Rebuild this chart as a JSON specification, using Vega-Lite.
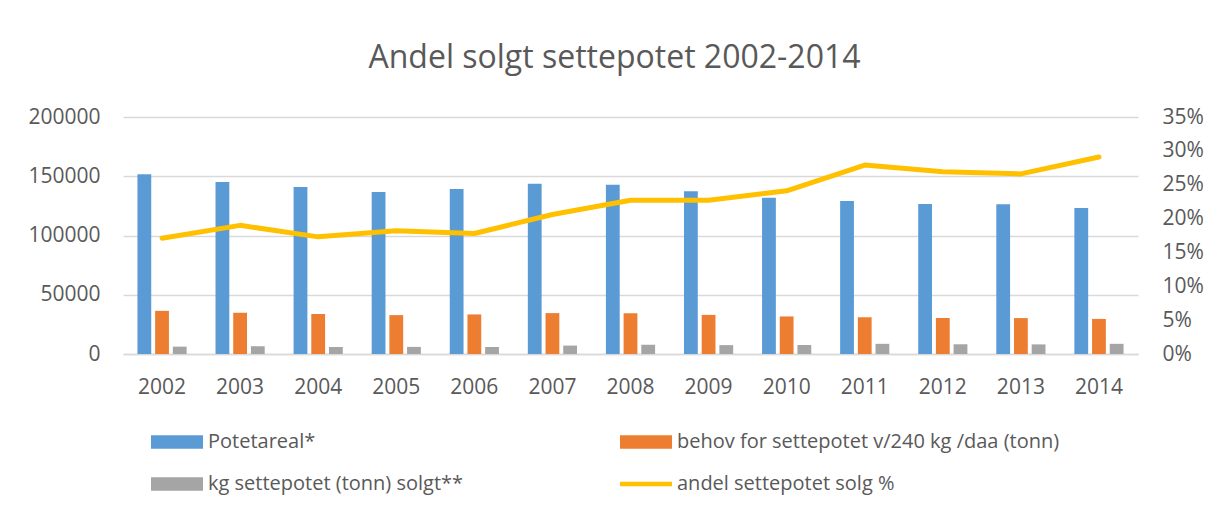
{
  "$schema": "https://vega.github.io/schema/vega-lite/v6.json",
  "autosize": {"type": "none"},
  "width": 1015,
  "height": 237,
  "padding": {"left": 123, "top": 117, "right": 70, "bottom": 157},
  "background": "white",
  "title": {
    "text": "Andel solgt settepotet 2002-2014",
    "font": "Open Sans",
    "fontSize": 32,
    "fontWeight": "normal",
    "color": "#595959",
    "anchor": "middle",
    "dx": -16,
    "offset": 6,
    "baseline": "alphabetic"
  },
  "datasets": {
    "bars": [
      {"year": "2002", "series": "Potetareal*", "value": 151600},
      {"year": "2003", "series": "Potetareal*", "value": 145100},
      {"year": "2004", "series": "Potetareal*", "value": 140900},
      {"year": "2005", "series": "Potetareal*", "value": 136700},
      {"year": "2006", "series": "Potetareal*", "value": 139200},
      {"year": "2007", "series": "Potetareal*", "value": 143700},
      {"year": "2008", "series": "Potetareal*", "value": 142900},
      {"year": "2009", "series": "Potetareal*", "value": 137300},
      {"year": "2010", "series": "Potetareal*", "value": 131900},
      {"year": "2011", "series": "Potetareal*", "value": 129100},
      {"year": "2012", "series": "Potetareal*", "value": 126600},
      {"year": "2013", "series": "Potetareal*", "value": 126300},
      {"year": "2014", "series": "Potetareal*", "value": 123200},
      {"year": "2002", "series": "behov for settepotet v/240 kg /daa (tonn)", "value": 36400},
      {"year": "2003", "series": "behov for settepotet v/240 kg /daa (tonn)", "value": 34800},
      {"year": "2004", "series": "behov for settepotet v/240 kg /daa (tonn)", "value": 33800},
      {"year": "2005", "series": "behov for settepotet v/240 kg /daa (tonn)", "value": 32800},
      {"year": "2006", "series": "behov for settepotet v/240 kg /daa (tonn)", "value": 33400},
      {"year": "2007", "series": "behov for settepotet v/240 kg /daa (tonn)", "value": 34500},
      {"year": "2008", "series": "behov for settepotet v/240 kg /daa (tonn)", "value": 34300},
      {"year": "2009", "series": "behov for settepotet v/240 kg /daa (tonn)", "value": 33000},
      {"year": "2010", "series": "behov for settepotet v/240 kg /daa (tonn)", "value": 31700},
      {"year": "2011", "series": "behov for settepotet v/240 kg /daa (tonn)", "value": 31000},
      {"year": "2012", "series": "behov for settepotet v/240 kg /daa (tonn)", "value": 30400},
      {"year": "2013", "series": "behov for settepotet v/240 kg /daa (tonn)", "value": 30300},
      {"year": "2014", "series": "behov for settepotet v/240 kg /daa (tonn)", "value": 29600},
      {"year": "2002", "series": "kg settepotet (tonn) solgt**", "value": 6200},
      {"year": "2003", "series": "kg settepotet (tonn) solgt**", "value": 6600},
      {"year": "2004", "series": "kg settepotet (tonn) solgt**", "value": 5900},
      {"year": "2005", "series": "kg settepotet (tonn) solgt**", "value": 6000},
      {"year": "2006", "series": "kg settepotet (tonn) solgt**", "value": 5900},
      {"year": "2007", "series": "kg settepotet (tonn) solgt**", "value": 7100},
      {"year": "2008", "series": "kg settepotet (tonn) solgt**", "value": 7800},
      {"year": "2009", "series": "kg settepotet (tonn) solgt**", "value": 7500},
      {"year": "2010", "series": "kg settepotet (tonn) solgt**", "value": 7600},
      {"year": "2011", "series": "kg settepotet (tonn) solgt**", "value": 8600},
      {"year": "2012", "series": "kg settepotet (tonn) solgt**", "value": 8200},
      {"year": "2013", "series": "kg settepotet (tonn) solgt**", "value": 8100},
      {"year": "2014", "series": "kg settepotet (tonn) solgt**", "value": 8600}
    ],
    "line": [
      {"year": "2002", "andel": 0.171},
      {"year": "2003", "andel": 0.190},
      {"year": "2004", "andel": 0.173},
      {"year": "2005", "andel": 0.182},
      {"year": "2006", "andel": 0.178},
      {"year": "2007", "andel": 0.206},
      {"year": "2008", "andel": 0.227},
      {"year": "2009", "andel": 0.227},
      {"year": "2010", "andel": 0.241},
      {"year": "2011", "andel": 0.279},
      {"year": "2012", "andel": 0.269},
      {"year": "2013", "andel": 0.266},
      {"year": "2014", "andel": 0.291}
    ]
  },
  "encoding": {
    "x": {
      "field": "year",
      "type": "nominal",
      "scale": {"paddingInner": 0.37, "paddingOuter": 0.185},
      "axis": {
        "title": null,
        "labelAngle": 0,
        "labelFont": "Open Sans",
        "labelFontSize": 21,
        "labelColor": "#595959",
        "labelPadding": 22,
        "labelBaseline": "top",
        "ticks": false,
        "tickSize": 0,
        "domain": true,
        "domainColor": "#D9D9D9",
        "domainWidth": 1.5,
        "grid": false
      }
    }
  },
  "layer": [
    {
      "data": {"name": "bars"},
      "mark": {"type": "bar"},
      "encoding": {
        "xOffset": {
          "field": "series",
          "type": "nominal",
          "sort": ["Potetareal*", "behov for settepotet v/240 kg /daa (tonn)", "kg settepotet (tonn) solgt**"],
          "scale": {"paddingInner": 0.22, "paddingOuter": 0}
        },
        "y": {
          "field": "value",
          "type": "quantitative",
          "scale": {"domain": [0, 200000], "nice": false},
          "axis": {
            "title": null,
            "values": [0, 50000, 100000, 150000, 200000],
            "format": "d",
            "labelFont": "Open Sans",
            "labelFontSize": 21,
            "labelColor": "#595959",
            "labelPadding": 23,
            "ticks": false,
            "tickSize": 0,
            "domain": false,
            "grid": true,
            "gridColor": "#D9D9D9",
            "gridWidth": 1.5
          }
        },
        "color": {
          "field": "series",
          "type": "nominal",
          "scale": {
            "domain": ["Potetareal*", "behov for settepotet v/240 kg /daa (tonn)", "kg settepotet (tonn) solgt**", "andel settepotet solg %"],
            "range": ["#5B9BD5", "#ED7D31", "#A5A5A5", "#FFC000"]
          },
          "legend": {
            "title": null,
            "orient": "none",
            "direction": "horizontal",
            "legendX": 28,
            "legendY": 299,
            "columns": 2,
            "columnPadding": 156,
            "rowPadding": 6,
            "padding": 0,
            "symbolSize": 2704,
            "symbolType": "M-1,-0.263H1V0.263H-1Z",
            "symbolStrokeWidth": 0,
            "labelFont": "Open Sans",
            "labelFontSize": 20,
            "labelColor": "#595959",
            "labelOffset": 5,
            "labelLimit": 500,
            "encode": {
              "symbols": {
                "update": {
                  "shape": {"signal": "datum.label == 'andel settepotet solg %' ? 'M-1,-0.09H1V0.09H-1Z' : 'M-1,-0.263H1V0.263H-1Z'"},
                  "fill": {"signal": "scale('color', datum.value)"},
                  "fillOpacity": {"value": 1},
                  "strokeWidth": {"value": 0}
                }
              }
            }
          }
        }
      }
    },
    {
      "data": {"name": "line"},
      "mark": {"type": "line", "strokeWidth": 5, "strokeCap": "round", "strokeJoin": "round"},
      "encoding": {
        "y": {
          "field": "andel",
          "type": "quantitative",
          "scale": {"domain": [0, 0.35], "nice": false},
          "axis": {
            "title": null,
            "orient": "right",
            "values": [0, 0.05, 0.1, 0.15, 0.2, 0.25, 0.3, 0.35],
            "format": ".0%",
            "labelFont": "Open Sans",
            "labelFontSize": 21,
            "labelColor": "#595959",
            "labelPadding": 24,
            "ticks": false,
            "tickSize": 0,
            "domain": false,
            "grid": false
          }
        },
        "color": {"datum": "andel settepotet solg %"}
      }
    }
  ],
  "resolve": {"scale": {"y": "independent"}},
  "config": {
    "view": {"stroke": null}
  }
}
